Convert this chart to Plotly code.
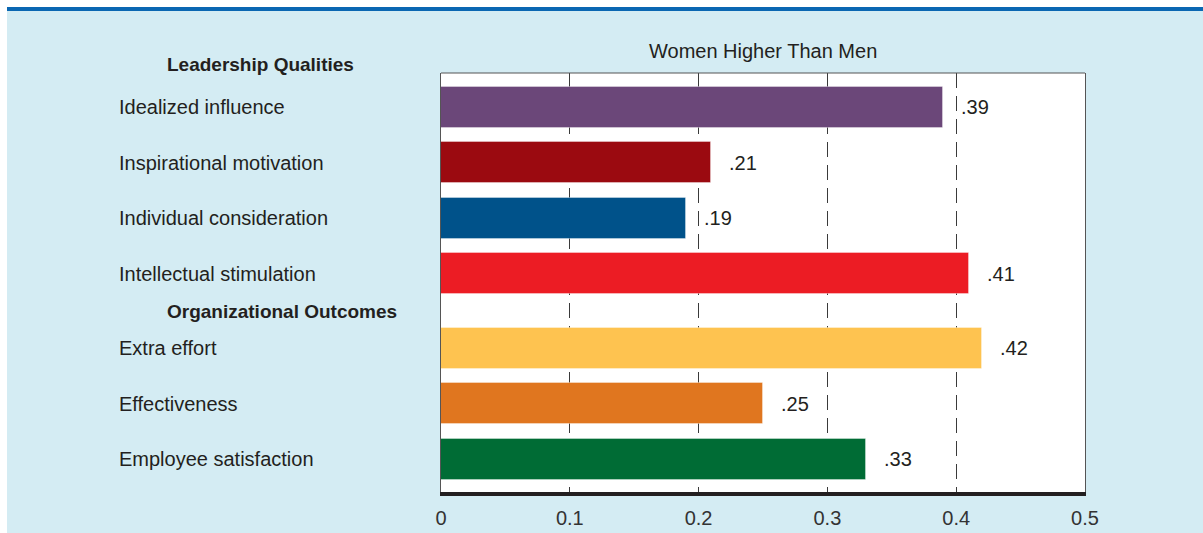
import plotly.graph_objects as go

# Effect sizes (women higher than men)
categories = [
    "Idealized influence",
    "Inspirational motivation",
    "Individual consideration",
    "Intellectual stimulation",
    "Extra effort",
    "Effectiveness",
    "Employee satisfaction",
]
values = [0.39, 0.21, 0.19, 0.41, 0.42, 0.25, 0.33]
value_labels = [".39", ".21", ".19", ".41", ".42", ".25", ".33"]
bar_colors = ["#6b4779", "#9b0a10", "#00528a", "#ec1c24", "#fec350", "#e0761f", "#006c35"]

group_titles = ["Leadership Qualities", "Organizational Outcomes"]
group_sizes = [4, 3]
x_ticks = [0, 0.1, 0.2, 0.3, 0.4, 0.5]
x_tick_text = ["0", "0.1", "0.2", "0.3", "0.4", "0.5"]

FONT = "Liberation Sans, Arial, sans-serif"
TEXT = "#231f20"
BG = "#d4ecf3"

# row positions: consecutive rows, with an extra gap between groups
GROUP_GAP = 0.35
rows, header_rows = [], []
start = 0
for g, n in enumerate(group_sizes):
    header_rows.append(start + g * GROUP_GAP)
    rows += [start + i + g * GROUP_GAP for i in range(n)]
    start += n

Y_RANGE = [6.94, -0.62]


def y_to_paper(v):
    return (Y_RANGE[0] - v) / (Y_RANGE[0] - Y_RANGE[1])


fig = go.Figure(go.Bar(
    x=values,
    y=rows,
    orientation="h",
    width=0.74,
    marker=dict(color=bar_colors, line=dict(color="rgba(255,255,255,0.35)", width=1)),
    hoverinfo="skip",
))

annotations = []
for name, yv in zip(categories, rows):
    annotations.append(dict(
        text=name, x=-0.503, xref="paper", y=y_to_paper(yv), yref="paper",
        xanchor="left", yanchor="middle", showarrow=False,
        font=dict(family=FONT, size=20, color=TEXT),
    ))
for v, lab, yv in zip(values, value_labels, rows):
    annotations.append(dict(
        text=lab, x=v, xref="x", y=yv, yref="y", xshift=16,
        xanchor="left", yanchor="middle", showarrow=False,
        font=dict(family=FONT, size=20, color=TEXT),
    ))
header_offsets = [0.78, 0.66]
for title, hy, off in zip(group_titles, header_rows, header_offsets):
    annotations.append(dict(
        text="<b>" + title + "</b>", x=-0.4285, xref="paper", y=y_to_paper(hy - off), yref="paper",
        xanchor="left", yanchor="middle", showarrow=False,
        font=dict(family=FONT, size=19, color=TEXT),
    ))
annotations.append(dict(
    text="Women Higher Than Men", x=0.5, xref="paper", y=1.0525, yref="paper",
    xanchor="center", yanchor="middle", showarrow=False,
    font=dict(family=FONT, size=20, color=TEXT),
))

W, H = 1203, 533
L, R, T, B = 441, 118, 73, 41
pw, ph = W - L - R, H - T - B


def px_x(p):
    return (p - L) / pw


def px_y(p):
    return (H - B - p) / ph


shapes = [
    # white page margin at the top and left, blue rule under it
    dict(type="rect", xref="paper", yref="paper", x0=px_x(0), x1=px_x(W), y0=px_y(7), y1=px_y(0),
         fillcolor="white", line=dict(width=0), layer="below"),
    dict(type="rect", xref="paper", yref="paper", x0=px_x(0), x1=px_x(7), y0=px_y(H), y1=px_y(0),
         fillcolor="white", line=dict(width=0), layer="below"),
    dict(type="rect", xref="paper", yref="paper", x0=px_x(7), x1=px_x(W), y0=px_y(11), y1=px_y(7),
         fillcolor="#0a67b2", line=dict(width=0), layer="below"),
    # top frame line of the plot area
    dict(type="line", xref="paper", yref="paper", x0=0, x1=1, y0=1, y1=1,
         line=dict(color="#555555", width=1)),
]

fig.update_layout(
    width=W, height=H,
    margin=dict(l=L, r=R, t=T, b=B, pad=0, autoexpand=False),
    paper_bgcolor=BG,
    plot_bgcolor="white",
    showlegend=False,
    bargap=0,
    annotations=annotations,
    shapes=shapes,
    xaxis=dict(
        range=[0, 0.5], tickvals=x_ticks, ticktext=x_tick_text, automargin=False,
        showgrid=True, gridcolor="#3a3a3a", gridwidth=1, griddash="15px,8px",
        zeroline=False, showline=True, linecolor="#231f20", linewidth=4,
        ticks="", ticklabelstandoff=5,
        tickfont=dict(family=FONT, size=20, color="#333333"),
        fixedrange=True,
    ),
    yaxis=dict(
        range=Y_RANGE, showticklabels=False, showgrid=False, zeroline=False, automargin=False,
        showline=True, mirror=True, linecolor="#555555", linewidth=1, ticks="",
        fixedrange=True,
    ),
)

fig.write_html("out.html")
